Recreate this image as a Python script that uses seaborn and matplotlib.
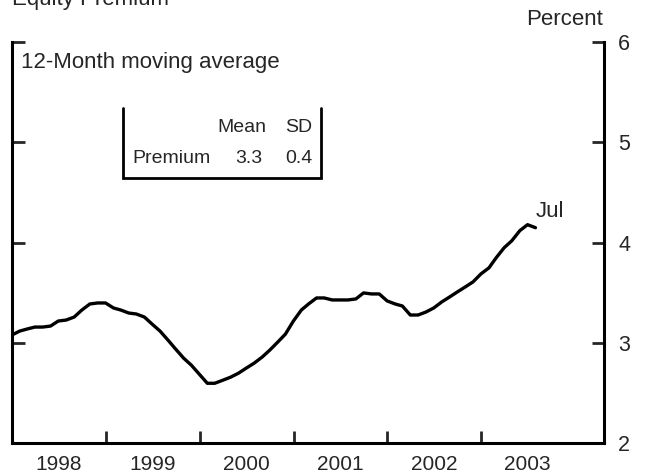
import matplotlib
matplotlib.use("Agg")
import matplotlib.pyplot as plt
import matplotlib.dates as mdates
from matplotlib.ticker import FixedLocator, NullFormatter
import seaborn as sns
import pandas as pd
import datetime as dt

# ---- data ----
start_month = "1997-12-31"
premium = [3.08, 3.12, 3.14, 3.16, 3.16, 3.17, 3.22, 3.23, 3.26, 3.33, 3.39, 3.40, 3.40,
           3.35, 3.33, 3.30, 3.29, 3.26, 3.19, 3.12, 3.03, 2.94, 2.85, 2.78, 2.69,
           2.60, 2.60, 2.63, 2.66, 2.70, 2.75, 2.80, 2.86, 2.93, 3.01, 3.09, 3.22,
           3.33, 3.39, 3.45, 3.45, 3.43, 3.43, 3.43, 3.44, 3.50, 3.49, 3.49, 3.42,
           3.39, 3.37, 3.28, 3.28, 3.31, 3.35, 3.41, 3.46, 3.51, 3.56, 3.61, 3.69,
           3.75, 3.85, 3.95, 4.02, 4.12, 4.18, 4.15]
year_labels = ["1998", "1999", "2000", "2001", "2002", "2003"]
y_ticks = [2, 3, 4, 5, 6]
stats_cols = ["Mean", "SD"]
stats_row = "Premium"
stats_vals = ["3.3", "0.4"]
title = "Equity Premium"
subtitle = "12-Month moving average"
unit = "Percent"
end_label = "Jul"

dates = pd.date_range(start_month, periods=len(premium), freq="ME")
df = pd.DataFrame({"date": dates, "value": premium})

sns.set_style("white")
plt.rcParams["font.family"] = ["Liberation Sans", "DejaVu Sans"]

fig = plt.figure(figsize=(6.48, 4.76), dpi=100)
ax = fig.add_axes([0.01852, 0.06828, 0.9141, 0.8435])

sns.lineplot(data=df, x="date", y="value", ax=ax, color="black", linewidth=2.4)

ax.set_xlim(dt.datetime(1998, 1, 1), dt.datetime(2004, 4, 24))
ax.set_ylim(2, 6)
ax.set_xlabel("")
ax.set_ylabel("")

for s in ["left", "right", "bottom"]:
    ax.spines[s].set_visible(True)
    ax.spines[s].set_linewidth(2.2)
    ax.spines[s].set_color("black")
ax.spines["top"].set_visible(False)

# x ticks: boundaries (major, unlabeled) and labels at mid-year (minor)
years = [int(y) for y in year_labels]
ax.xaxis.set_major_locator(FixedLocator([mdates.date2num(dt.datetime(y, 1, 1)) for y in years[1:]]))
ax.xaxis.set_major_formatter(NullFormatter())
ax.xaxis.set_minor_locator(FixedLocator([mdates.date2num(dt.datetime(y, 7, 1)) for y in years]))
ax.set_xticklabels(year_labels, minor=True)
ax.tick_params(axis="x", which="major", direction="in", length=9, width=2, bottom=True, top=False)
ax.tick_params(axis="x", which="minor", length=0, pad=8, labelsize=15)

# y ticks
ax.set_yticks(y_ticks)
ax.set_yticklabels([str(v) for v in y_ticks])
ax.yaxis.set_minor_locator(FixedLocator([y_ticks[-1]]))
ax.tick_params(axis="y", which="major", direction="in", length=9, width=2,
               left=True, right=True, labelleft=False, labelright=True, pad=10, labelsize=15.5)
ax.tick_params(axis="y", which="minor", direction="in", length=18, width=2,
               left=True, right=True)

# end label
ax.annotate(end_label, xy=(df["date"].iloc[-1], df["value"].iloc[-1]),
            xytext=(0, 11), textcoords="offset pixels", ha="left", va="baseline", fontsize=16)

# subtitle
ax.text(0.016, 0.9345, subtitle, transform=ax.transAxes, ha="left", va="baseline", fontsize=16)

# stats box
bx0, bx1, by0, by1 = 0.1874, 0.5217, 0.6613, 0.8356
ax.plot([bx0, bx0, bx1, bx1], [by1, by0, by0, by1], transform=ax.transAxes,
        color="black", linewidth=2.0, clip_on=False, solid_joinstyle="miter")
ax.text(0.4288, 0.7766, stats_cols[0], transform=ax.transAxes, ha="right", va="baseline", fontsize=14)
ax.text(0.5065, 0.7766, stats_cols[1], transform=ax.transAxes, ha="right", va="baseline", fontsize=14)
ax.text(0.2030, 0.6994, stats_row, transform=ax.transAxes, ha="left", va="baseline", fontsize=14)
ax.text(0.4221, 0.6994, stats_vals[0], transform=ax.transAxes, ha="right", va="baseline", fontsize=14)
ax.text(0.5065, 0.6994, stats_vals[1], transform=ax.transAxes, ha="right", va="baseline", fontsize=14)

# title and unit
fig.text(12 / 648, 1 - 5.5 / 476, title, ha="left", va="baseline", fontsize=16)
fig.text(603 / 648, 1 - 25 / 476, unit, ha="right", va="baseline", fontsize=16)

fig.savefig("out.png", dpi=100)
